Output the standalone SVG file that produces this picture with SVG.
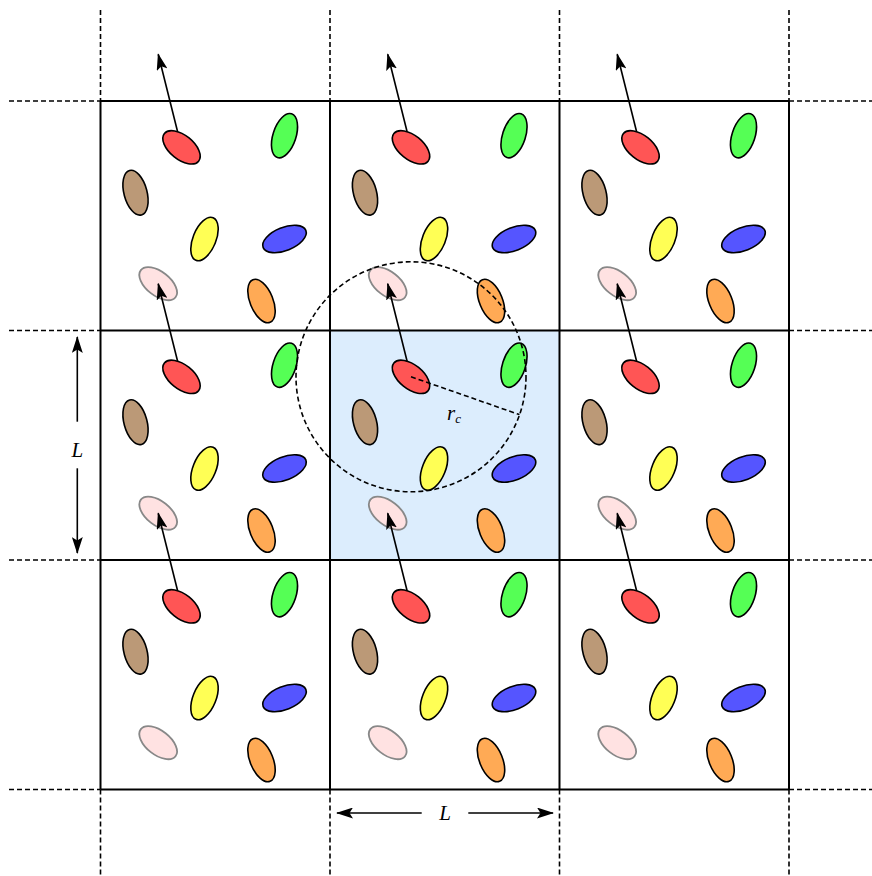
<svg xmlns="http://www.w3.org/2000/svg" xmlns:xlink="http://www.w3.org/1999/xlink" width="872" height="876" viewBox="0 0 872 876">
<style>
.grid{stroke:#000;stroke-width:2;fill:none}
.ext{stroke:#000;stroke-width:1.6;stroke-dasharray:5,3;fill:none}
.p{stroke:#000;stroke-width:1.6}
.pk{fill:#ffe2e2;stroke:#888;stroke-width:1.8}
.arr{stroke:#000;stroke-width:1.6;fill:none}
.lbl{font-family:"Liberation Serif",serif;font-style:italic;font-size:21px;fill:#000}
</style>
<defs>
<marker id="ah" markerWidth="17" markerHeight="11" refX="16" refY="5.5" orient="auto" markerUnits="userSpaceOnUse">
<path d="M0,0 L17,5.5 L0,11 L3.5,5.5 Z" fill="#000"/>
</marker>
<g id="cell">
<ellipse cx="81" cy="46.3" rx="22" ry="12" transform="rotate(39 81 46.3)" class="p" fill="#ff5555"/>
<ellipse cx="184" cy="34.7" rx="23" ry="11.5" transform="rotate(-72 184 34.7)" class="p" fill="#55ff55"/>
<ellipse cx="35" cy="91.7" rx="23" ry="11.5" transform="rotate(75 35 91.7)" class="p" fill="#bb9977"/>
<ellipse cx="104" cy="138" rx="23" ry="11.5" transform="rotate(-68 104 138)" class="p" fill="#ffff55"/>
<ellipse cx="184" cy="138" rx="23" ry="11.5" transform="rotate(-22 184 138)" class="p" fill="#5555ff"/>
<ellipse cx="57.7" cy="182.7" rx="22" ry="12" transform="rotate(38 57.7 182.7)" class="pk"/>
<ellipse cx="161" cy="200" rx="23" ry="11.5" transform="rotate(68 161 200)" class="p" fill="#ffaa55"/>
</g>
</defs>
<rect x="330" y="330.5" width="229.5" height="229.5" fill="#dcedfd"/>
<g id="grid">
<path class="grid" d="M100.5,101 V789.5 M330,101 V789.5 M559.5,101 V789.5 M789,101 V789.5 M100.5,101 H789 M100.5,330.5 H789 M100.5,560 H789 M100.5,789.5 H789"/>
<path class="ext" d="M100.5,10 V101 M330,10 V101 M559.5,10 V101 M789,10 V101 M100.5,789.5 V875 M330,789.5 V875 M559.5,789.5 V875 M789,789.5 V875 M9,101 H100.5 M9,330.5 H100.5 M9,560 H100.5 M9,789.5 H100.5 M789,101 H872 M789,330.5 H872 M789,560 H872 M789,789.5 H872"/>
</g>
<g id="particles">
<use id="cell-0-0" xlink:href="#cell" transform="translate(100.5 101)"/>
<use id="cell-1-0" xlink:href="#cell" transform="translate(330 101)"/>
<use id="cell-2-0" xlink:href="#cell" transform="translate(559.5 101)"/>
<use id="cell-0-1" xlink:href="#cell" transform="translate(100.5 330.5)"/>
<use id="cell-1-1" xlink:href="#cell" transform="translate(330 330.5)"/>
<use id="cell-2-1" xlink:href="#cell" transform="translate(559.5 330.5)"/>
<use id="cell-0-2" xlink:href="#cell" transform="translate(100.5 560)"/>
<use id="cell-1-2" xlink:href="#cell" transform="translate(330 560)"/>
<use id="cell-2-2" xlink:href="#cell" transform="translate(559.5 560)"/>
</g>
<g id="connectors">
<line class="arr" x1="177.6" y1="131.8" x2="158.2" y2="54.2" marker-end="url(#ah)"/>
<line class="arr" x1="407.1" y1="131.8" x2="387.7" y2="54.2" marker-end="url(#ah)"/>
<line class="arr" x1="636.6" y1="131.8" x2="617.2" y2="54.2" marker-end="url(#ah)"/>
<line class="arr" x1="177.6" y1="361.3" x2="158.2" y2="283.7" marker-end="url(#ah)"/>
<line class="arr" x1="407.1" y1="361.3" x2="387.7" y2="283.7" marker-end="url(#ah)"/>
<line class="arr" x1="636.6" y1="361.3" x2="617.2" y2="283.7" marker-end="url(#ah)"/>
<line class="arr" x1="177.6" y1="590.8" x2="158.2" y2="513.2" marker-end="url(#ah)"/>
<line class="arr" x1="407.1" y1="590.8" x2="387.7" y2="513.2" marker-end="url(#ah)"/>
<line class="arr" x1="636.6" y1="590.8" x2="617.2" y2="513.2" marker-end="url(#ah)"/>
</g>
<g id="cutoff">
<circle cx="411" cy="376.8" r="115" fill="none" stroke="#000" stroke-width="1.6" stroke-dasharray="5,3"/>
<line x1="411" y1="376.8" x2="519.5" y2="414.6" stroke="#000" stroke-width="1.6" stroke-dasharray="5,3"/>
<text class="lbl" x="447" y="420" font-size="19">r<tspan font-size="13" dy="3">c</tspan></text>
</g>
<g id="dim-horizontal">
<line class="arr" x1="421.7" y1="813" x2="337" y2="813" marker-end="url(#ah)"/>
<line class="arr" x1="468.3" y1="813" x2="553" y2="813" marker-end="url(#ah)"/>
<text class="lbl" x="445" y="820" text-anchor="middle">L</text>
</g>
<g id="dim-vertical">
<line class="arr" x1="77.3" y1="421.7" x2="77.3" y2="337" marker-end="url(#ah)"/>
<line class="arr" x1="77.3" y1="468.3" x2="77.3" y2="553" marker-end="url(#ah)"/>
<text class="lbl" x="77.3" y="457" text-anchor="middle">L</text>
</g>
</svg>
